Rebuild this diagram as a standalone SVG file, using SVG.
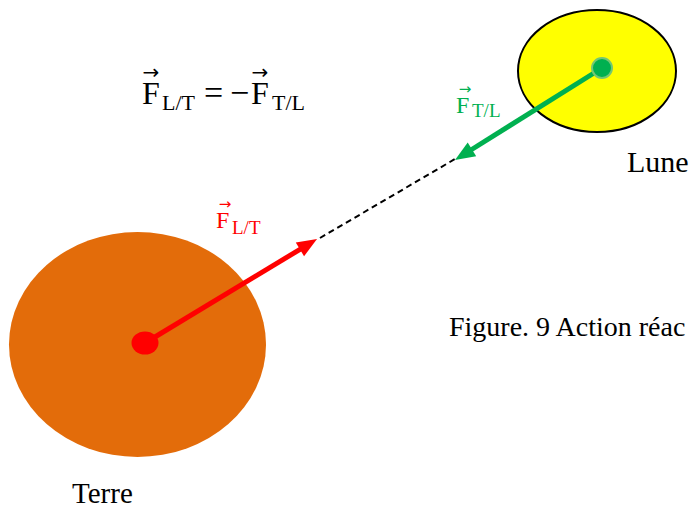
<svg xmlns="http://www.w3.org/2000/svg" width="694" height="508" viewBox="0 0 694 508">
<style>
.lbl{font-family:"Liberation Serif","Times New Roman",serif;fill:#000}
.big{font-size:30px}
.m{font-family:"Liberation Serif","DejaVu Serif",serif}
.arr{font-family:"DejaVu Sans",sans-serif}
.red{fill:#FF0000}
.grn{fill:#00B050}
</style>
<defs>
<marker id="hr" markerUnits="strokeWidth" markerWidth="4" markerHeight="3.2" refX="1" refY="1.6" orient="auto" overflow="visible">
<path d="M0,0 L4,1.6 L0,3.2 z" fill="#FF0000"/>
</marker>
<marker id="hg" markerUnits="strokeWidth" markerWidth="4" markerHeight="3.2" refX="1" refY="1.6" orient="auto" overflow="visible">
<path d="M0,0 L4,1.6 L0,3.2 z" fill="#00B050"/>
</marker>
</defs>
<rect width="694" height="508" fill="#fff"/>
<g id="terre">
<ellipse cx="137.5" cy="344.5" rx="128.5" ry="112.5" fill="#E36C0A"/>
</g>
<g id="lune">
<ellipse cx="597" cy="71" rx="79" ry="61" fill="#FFFF00" stroke="#000" stroke-width="2"/>
</g>
<g id="connectors">
<line x1="320" y1="238" x2="455" y2="159" stroke="#000" stroke-width="2" stroke-dasharray="6 4"/>
<line x1="145" y1="343" x2="304.2" y2="246.8" stroke="#FF0000" stroke-width="5" marker-end="url(#hr)"/>
<line x1="602" y1="68" x2="467.7" y2="152" stroke="#00B050" stroke-width="5" marker-end="url(#hg)"/>
</g>
<g id="terre-centre">
<ellipse cx="145" cy="343" rx="13.5" ry="11.5" fill="#FF0000"/>
</g>
<g id="lune-centre">
<circle cx="602" cy="68" r="10" fill="#00B050" stroke="#74C774" stroke-width="2"/>
</g>
<g id="labels">
<text class="lbl big" x="627" y="172">Lune</text>
<text class="lbl" x="72" y="503" font-size="29">Terre</text>
<text class="lbl" x="449" y="336" font-size="28">Figure. 9 Action réac</text>
<g id="equation">
<text class="m" x="142" y="104" font-size="32">F</text>
<text class="arr" x="151" y="79" font-size="20" text-anchor="middle">→</text>
<text class="m" x="162" y="110" font-size="22">L/T</text>
<text class="m" x="204" y="104" font-size="34">=</text>
<text class="m" x="230" y="104" font-size="34">−</text>
<text class="m" x="251" y="104" font-size="32">F</text>
<text class="arr" x="260" y="79" font-size="20" text-anchor="middle">→</text>
<text class="m" x="272" y="110" font-size="22">T/L</text>
</g>
<g id="label-ftl" class="grn">
<text class="m" x="456" y="113" font-size="24">F</text>
<text class="arr" x="465" y="94" font-size="15" text-anchor="middle">→</text>
<text class="m" x="472" y="117" font-size="19">T/L</text>
</g>
<g id="label-flt" class="red">
<text class="m" x="216" y="228" font-size="24">F</text>
<text class="arr" x="225" y="209" font-size="15" text-anchor="middle">→</text>
<text class="m" x="232" y="234" font-size="19">L/T</text>
</g>
</g>
</svg>
